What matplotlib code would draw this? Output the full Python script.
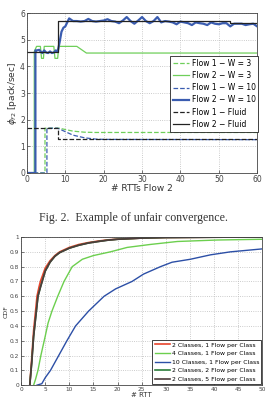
import numpy as np
import matplotlib.pyplot as plt

# ---- top chart data ----
f2_w10_x = [0, 2.2, 2.2, 2.6, 3.2, 3.6, 4.0, 4.5, 5.0, 5.5, 6.0, 6.5, 7.0, 7.5, 8.0, 8.5, 9.0, 9.5, 10.0, 10.5,
            11.0, 11.5, 12, 13, 14, 15, 16, 17, 18, 19, 20, 21, 22, 23, 24, 25, 26, 27, 28, 29, 30, 31, 32, 33,
            34, 35, 36, 37, 38, 39, 40, 41, 42, 43, 44, 45, 46, 47, 48, 49, 50, 51, 52, 53, 54, 55, 56, 57, 58, 59, 60]
f2_w10_y = [0, 0, 4.6, 4.6, 4.62, 4.55, 4.5, 4.6, 4.52, 4.5, 4.56, 4.5, 4.52, 4.6, 4.55, 4.9, 5.3, 5.45, 5.5, 5.65,
            5.8, 5.75, 5.7, 5.7, 5.68, 5.7, 5.78, 5.7, 5.68, 5.7, 5.72, 5.77, 5.7, 5.68, 5.62, 5.72, 5.85, 5.7,
            5.6, 5.72, 5.85, 5.7, 5.62, 5.7, 5.85, 5.65, 5.7, 5.68, 5.65, 5.58, 5.68, 5.65, 5.62, 5.55, 5.65, 5.62,
            5.6, 5.55, 5.65, 5.6, 5.58, 5.62, 5.62, 5.5, 5.6, 5.6, 5.6, 5.55, 5.58, 5.6, 5.5]
f2_w3_x = [0, 1.9, 1.9, 2.5, 3.5, 3.8, 4.3, 4.5, 7.0, 7.3, 8.0, 8.3, 13, 15.5, 60]
f2_w3_y = [0, 0, 4.55, 4.75, 4.75, 4.3, 4.3, 4.75, 4.75, 4.3, 4.3, 4.75, 4.75, 4.5, 4.5]
f1_w3_x = [0, 4.7, 4.7, 8.5, 10, 12, 15, 18, 60]
f1_w3_y = [0, 0, 1.68, 1.68, 1.63, 1.57, 1.53, 1.52, 1.52]
f1_w10_x = [0, 5.2, 5.2, 8, 10, 12, 15, 18, 20, 60]
f1_w10_y = [0, 0, 1.68, 1.68, 1.55, 1.42, 1.32, 1.27, 1.26, 1.25]
f1_fl_x = [0, 8, 8, 60]
f1_fl_y = [1.68, 1.68, 1.27, 1.27]
f2_fl_x = [0, 8, 8, 52.8, 52.8, 60]
f2_fl_y = [4.55, 4.55, 5.7, 5.7, 5.62, 5.62]

# ---- bottom chart data (CDF) ----
c2_1_x = [1.8, 2.2, 2.6, 3.0, 3.3, 3.7, 4, 5, 6, 7, 8, 9, 10, 12, 14, 16, 18, 20, 25, 30, 40, 50]
c2_1_y = [0, 0.18, 0.37, 0.5, 0.6, 0.66, 0.7, 0.79, 0.84, 0.875, 0.9, 0.915, 0.93, 0.95, 0.963, 0.973, 0.981, 0.986, 0.993, 0.997, 0.999, 1.0]
c2_x = [1.8, 2.2, 2.6, 3.0, 3.5, 4, 5, 6, 7, 8, 9, 10, 12, 14, 16, 18, 20, 25, 30, 40, 50]
c2_y = [0, 0.15, 0.33, 0.45, 0.6, 0.66, 0.77, 0.83, 0.87, 0.895, 0.91, 0.925, 0.945, 0.96, 0.97, 0.979, 0.985, 0.993, 0.997, 0.999, 1.0]
c4_x = [2.6, 3.0, 3.5, 4.1, 5, 5.6, 6.4, 7.6, 8.9, 10.6, 12.7, 15, 18.5, 22, 26.8, 32.4, 40.7, 50]
c4_y = [0, 0.04, 0.1, 0.2, 0.33, 0.42, 0.5, 0.6, 0.7, 0.8, 0.85, 0.875, 0.9, 0.93, 0.95, 0.97, 0.98, 0.985]
c10_x = [3.3, 4.3, 5.0, 6.1, 7.8, 9.5, 11.3, 14, 17.2, 19.6, 23, 25.4, 28.9, 31.3, 35.1, 39.3, 43.4, 50]
c10_y = [0, 0.01, 0.05, 0.1, 0.2, 0.3, 0.4, 0.5, 0.6, 0.65, 0.7, 0.75, 0.8, 0.83, 0.85, 0.88, 0.9, 0.92]

fig = plt.figure(figsize=(2.67, 4.08), dpi=100)

# top chart
ax1 = fig.add_axes([0.101, 0.576, 0.862, 0.392])
g = '#6fcf5a'
b = '#3a5cb0'
ax1.plot(f1_w3_x, f1_w3_y, '--', color=g, lw=0.9, label='Flow 1 \u2212 W = 3')
ax1.plot(f2_w3_x, f2_w3_y, '-', color=g, lw=0.9, label='Flow 2 \u2212 W = 3')
ax1.plot(f1_w10_x, f1_w10_y, '--', color=b, lw=0.9, label='Flow 1 \u2212 W = 10')
ax1.plot(f2_w10_x, f2_w10_y, '-', color=b, lw=1.6, label='Flow 2 \u2212 W = 10')
ax1.plot(f1_fl_x, f1_fl_y, '--', color='#222222', lw=0.9, label='Flow 1 \u2212 Fluid')
ax1.plot(f2_fl_x, f2_fl_y, '-', color='#222222', lw=0.9, label='Flow 2 \u2212 Fluid')
ax1.set_xlim(0, 60)
ax1.set_ylim(0, 6)
ax1.set_xticks(range(0, 61, 10))
ax1.set_yticks(range(0, 7))
ax1.grid(True, ls=':', color='#bbbbbb', lw=0.6)
ax1.tick_params(labelsize=5.5, length=2, width=0.5, pad=1.5, direction='in', colors='#444444')
ax1.set_xlabel('# RTTs Flow 2', fontsize=6.5, labelpad=0, color='#333333')
ax1.set_ylabel(r'$\phi_{f2}$ [pack/sec]', fontsize=6.5, labelpad=1, color='#333333')
for s in ax1.spines.values():
    s.set_linewidth(0.6)
    s.set_color('#444444')
leg = ax1.legend(loc='center right', bbox_to_anchor=(1.005, 0.495), fontsize=5.5, frameon=True, fancybox=False,
                 edgecolor='#222222', framealpha=1, handlelength=2.2, handletextpad=0.3, borderpad=0.35,
                 labelspacing=0.42, borderaxespad=0)
leg.get_frame().set_linewidth(0.6)

fig.text(0.5, 1 - 218 / 408, 'Fig. 2.  Example of unfair convergence.', ha='center', va='center',
         fontsize=8.6, family='Liberation Serif', color='#333333')

# bottom chart
ax2 = fig.add_axes([0.079, 0.056, 0.903, 0.363])
ax2.plot(c2_1_x, c2_1_y, color='#e8442c', lw=1.2, label='2 Classes, 1 Flow per Class')
ax2.plot(c4_x, c4_y, color='#6ccf4e', lw=1.0, label='4 Classes, 1 Flow per Class')
ax2.plot(c10_x, c10_y, color='#2c4fa6', lw=1.0, label='10 Classes, 1 Flow per Class')
ax2.plot(c2_x, c2_y, color='#2b7d3a', lw=1.2, label='2 Classes, 2 Flow per Class')
ax2.plot(c2_x, c2_y, color='#4d3b3b', lw=1.2, label='2 Classes, 5 Flow per Class')
ax2.set_xlim(0, 50)
ax2.set_ylim(0, 1)
ax2.set_xticks(range(0, 51, 5))
ax2.set_yticks(np.arange(0, 1.01, 0.1))
ax2.set_yticklabels(['0', '0.1', '0.2', '0.3', '0.4', '0.5', '0.6', '0.7', '0.8', '0.9', '1'])
ax2.grid(True, ls=':', color='#bbbbbb', lw=0.6)
ax2.tick_params(labelsize=4.2, length=2, width=0.5, pad=1.5, direction='in', colors='#444444')
ax2.set_xlabel('# RTT', fontsize=5, labelpad=0, color='#333333')
ax2.set_ylabel('CDF', fontsize=4.5, labelpad=1, color='#333333')
for s in ax2.spines.values():
    s.set_linewidth(0.6)
    s.set_color('#444444')
leg2 = ax2.legend(loc='lower right', fontsize=4.4, frameon=True, fancybox=False, edgecolor='#222222',
                  framealpha=1, handlelength=2.5, handletextpad=0.3, borderpad=0.35, labelspacing=0.55,
                  borderaxespad=0.15)
leg2.get_frame().set_linewidth(0.6)

fig.savefig('out.png', dpi=100)
